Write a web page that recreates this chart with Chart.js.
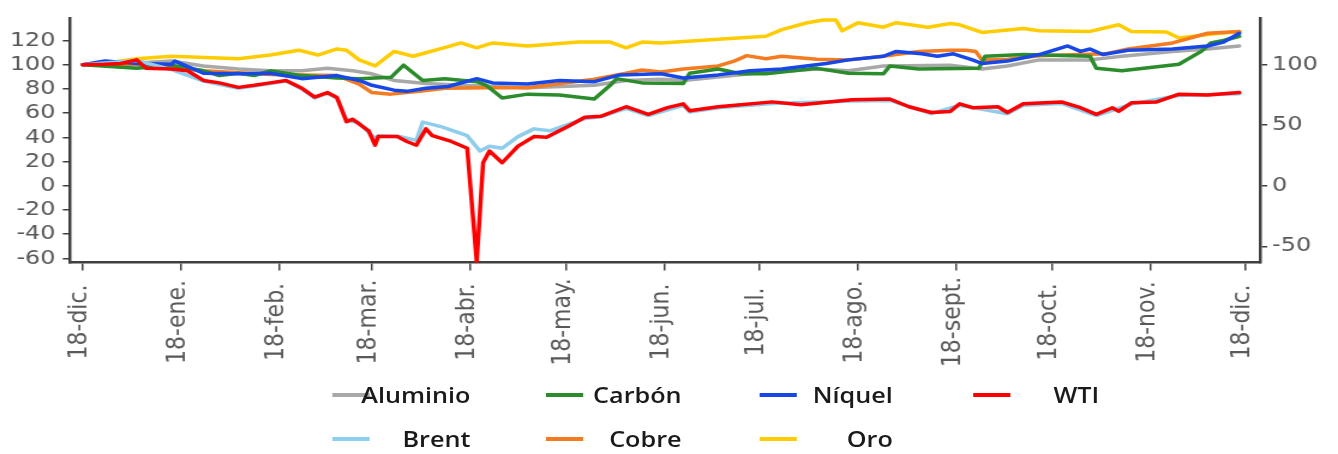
<!DOCTYPE html>
<html lang="es">
<head>
<meta charset="utf-8">
<title>Materias primas</title>
<script src="https://cdn.jsdelivr.net/npm/chart.js@4.4.1/dist/chart.umd.min.js"></script>
<style>
  html, body { margin: 0; padding: 0; background: #fff; overflow: hidden; }
  /* the reference is stretched sideways, so the whole chart is drawn narrower and scaled */
  #wrap { position: relative; width: 1115px; height: 454px; transform: scaleX(1.2); transform-origin: 0 0; }
  #chart { position: absolute; left: 0; top: 0; }
  #legend { position: absolute; left: 0; top: 0; width: 100%; height: 100%; font-family: 'Open Sans', sans-serif; font-size: 21px; font-weight: 600; color: #1a1a1a; }
  .item { position: absolute; height: 30px; }
  .item .line { position: absolute; left: 0; top: 13px; width: 31px; height: 4px; }
  .item .txt { position: absolute; right: 0; top: 0; line-height: 30px; white-space: nowrap; }
</style>
</head>
<body>
<div id="wrap">
  <canvas id="chart" width="1115" height="454"></canvas>
  <div id="legend"></div>
</div>
<script>
// Eje X: días desde el 18-dic-2019
const tickDays = [0, 31, 62, 91, 122, 152, 183, 213, 244, 275, 305, 336, 366];
const tickLabels = ['18-dic.', '18-ene.', '18-feb.', '18-mar.', '18-abr.', '18-may.', '18-jun.',
                    '18-jul.', '18-ago.', '18-sept.', '18-oct.', '18-nov.', '18-dic.'];
const leftTicks = [-60, -40, -20, 0, 20, 40, 60, 80, 100, 120];
const rightTicks = [-50, 0, 50, 100];

// Series (índice 18-dic = 100)
const aluminioDias = [0, 7, 17, 28, 38, 49, 59, 69, 77, 85, 91, 98, 108, 119, 140, 161, 171, 182, 189, 210,
  231, 241, 252, 273, 283, 291, 301, 317, 327, 343, 354, 364];
const aluminioValores = [100, 101, 101.5, 103, 99, 96.5, 95, 95, 97, 95, 92.5, 87, 84.5, 83, 81, 83, 87, 88, 87, 92.5,
  96.5, 95, 99, 99.6, 96.5, 99, 104, 104, 107, 111, 113, 115.5];

const carbonDias = [0, 17, 28, 38, 43, 49, 54, 59, 69, 80, 87, 97, 101, 107, 114, 124, 127, 132, 140, 150,
  161, 166, 168, 176, 189, 191, 200, 207, 215, 231, 241, 252, 254, 263, 282, 284, 296, 317, 319, 327,
  345, 352, 355, 359, 364];
const carbonValores = [100, 97, 99.6, 95, 91, 93, 91, 95, 91, 89, 88.5, 89.6, 99.6, 87, 88.5, 86, 83, 72.5, 75.7, 75,
  71.7, 83, 88.5, 85, 84.5, 93, 96.5, 92.5, 92.5, 97, 93, 92.5, 99, 96.5, 97, 107, 108.4, 107, 97, 95,
  100.4, 111, 118, 120, 123.5];

const niquelDias = [0, 7, 17, 28, 29, 38, 49, 59, 69, 80, 87, 91, 98, 102, 108, 115, 124, 129, 140, 150,
  161, 169, 182, 189, 200, 210, 220, 234, 241, 252, 256, 264, 269, 274, 280, 283, 291, 301, 310, 314,
  317, 321, 329, 343, 354, 359, 364];
const niquelValores = [100, 103, 101, 100.4, 103, 93, 92.5, 93, 88.5, 91, 87, 83, 79, 78, 80.5, 82, 88.5, 85, 84, 87,
  86, 91.6, 92.5, 89, 91.6, 95, 96.5, 101, 104, 107, 111, 109, 107, 109, 104, 101, 103, 108.4, 115.5, 111,
  113, 108.4, 112, 113, 115.5, 118.7, 126];

const wtiDias = [0, 7, 12, 17, 20, 28, 33, 38, 43, 49, 54, 59, 64, 69, 73, 77, 80, 83, 85, 87,
  90, 92, 93, 99, 102, 105, 108, 110, 116, 121, 124, 126, 128, 132, 137, 142, 146, 153, 158, 163,
  171, 178, 184, 189, 191, 200, 217, 226, 242, 254, 260, 267, 273, 276, 280, 288, 291, 296, 308, 314,
  319, 324, 326, 330, 338, 345, 354, 364];
const wtiValores = [100, 100.4, 101, 104, 97, 96.5, 95, 87, 85, 81.3, 83, 85, 87, 80.5, 73.3, 77, 73, 53, 55, 51,
  45.4, 33.5, 40.6, 40.6, 36.6, 33.5, 47, 41.4, 36.6, 31, -63, 19, 28.7, 19, 32.7, 40.6, 40, 49.4, 56.6, 57.4,
  65.3, 59, 64.5, 67.7, 62, 65.3, 69.3, 67, 71, 71.7, 65.3, 60.5, 61.4, 67.7, 64.5, 65.3, 60.5, 67.7, 69.3, 64.5,
  59, 64.5, 61.4, 68.5, 69.3, 75.7, 75, 77];

const brentDias = [0, 17, 28, 38, 49, 59, 64, 69, 73, 77, 80, 83, 87, 92, 93, 100, 105, 107, 113, 121,
  125, 128, 132, 137, 142, 147, 153, 158, 163, 171, 178, 189, 191, 200, 217, 242, 254, 267, 276, 291,
  296, 308, 319, 330, 345, 364];
const brentValores = [100, 103.5, 96, 86.5, 80.5, 84.5, 86.5, 80, 72.5, 76.5, 72.5, 54, 52, 39, 41.4, 40.6, 37.5, 52.6, 48.6, 41.4,
  28.7, 32.7, 31, 40.6, 47, 45.4, 51, 55.5, 57, 64, 58, 66.5, 61, 64.5, 68, 70, 70.5, 59.5, 66.5, 59.5,
  66.5, 68, 58, 67.5, 74.5, 76];

const cobreDias = [0, 17, 38, 59, 80, 87, 91, 97, 106, 114, 127, 140, 161, 171, 176, 182, 189, 200, 205, 209,
  215, 220, 231, 241, 252, 263, 273, 278, 281, 283, 291, 301, 322, 329, 343, 354, 364];
const cobreValores = [100, 100, 95, 92, 91, 84, 77, 75.7, 78, 80.5, 81, 81, 88, 93, 95.6, 94, 96.5, 99, 103, 107.5,
  105, 107, 104.5, 104, 107, 111, 112, 112, 111, 104, 104.5, 107.5, 109, 113, 118, 126, 127.5];

const oroDias = [0, 7, 12, 17, 28, 49, 59, 68, 74, 80, 83, 87, 92, 98, 104, 115, 119, 124, 129, 140,
  156, 166, 171, 176, 182, 200, 215, 220, 228, 233, 237, 239, 244, 252, 256, 266, 273, 276, 283, 296,
  301, 317, 326, 330, 341, 345, 354, 364];
const oroValores = [100, 101, 103, 105, 107, 105, 108, 112, 108, 113, 112, 104, 99, 111, 107, 115, 118, 114, 118, 115.5,
  118.7, 118.7, 114, 118.7, 118, 121, 123.5, 129, 134.7, 137, 137, 128, 134.7, 131, 134.7, 131, 134, 133, 126.7, 130,
  128, 127.5, 133, 127.5, 127, 122, 125, 127.5];

const toPoints = (dias, valores) => dias.map((d, i) => ({ x: d, y: valores[i] }));

const tickFont = { family: "'DejaVu Sans', sans-serif", size: 20 };
const axisColor = '#404040';
const labelColor = '#595959';

function makeDataset(label, dias, valores, color, axis, order) {
    return {
        label: label,
        data: toPoints(dias, valores),
        borderColor: color,
        backgroundColor: color,
        borderWidth: 3.5,
        pointRadius: 0,
        tension: 0,
        borderJoinStyle: 'round',
        borderCapStyle: 'round',
        yAxisID: axis,
        order: order
    };
}

// orden de la leyenda; "order" decide qué línea queda encima
const datasets = [
    makeDataset('Aluminio', aluminioDias, aluminioValores, '#A8A8A8', 'y', 5),
    makeDataset('Carbón', carbonDias, carbonValores, '#2B8C2B', 'y', 3),
    makeDataset('Níquel', niquelDias, niquelValores, '#1747E6', 'y', 2),
    makeDataset('WTI', wtiDias, wtiValores, '#FF0000', 'y1', 0),
    makeDataset('Brent', brentDias, brentValores, '#8ECDEB', 'y1', 1),
    makeDataset('Cobre', cobreDias, cobreValores, '#F47B20', 'y', 4),
    makeDataset('Oro', oroDias, oroValores, '#FFCC00', 'y', 6)
];

// etiquetas de meses giradas y centradas, como en el original
const monthLabels = {
    id: 'monthLabels',
    afterDraw(chart) {
        const ctx = chart.ctx;
        const x = chart.scales.x;
        const cy = x.top + 59.5;
        ctx.save();
        ctx.font = "22px 'DejaVu Sans', sans-serif";
        ctx.fillStyle = labelColor;
        ctx.textAlign = 'center';
        ctx.textBaseline = 'middle';
        tickDays.forEach((d, i) => {
            ctx.save();
            ctx.translate(x.getPixelForValue(d) - 2.5, cy);
            ctx.rotate(-Math.PI / 2);
            ctx.fillText(tickLabels[i], 0, 0);
            ctx.restore();
        });
        ctx.restore();
    }
};

const yLimits = { min: -63.4, max: 138.6 };

const chart = new Chart(document.getElementById('chart').getContext('2d'), {
    type: 'line',
    data: { datasets: datasets },
    options: {
        responsive: false,
        animation: false,
        layout: { padding: { top: 10, left: 0, right: 0, bottom: 0 } },
        plugins: { legend: { display: false }, tooltip: { enabled: false } },
        scales: {
            x: {
                type: 'linear',
                min: -4,
                max: 370.5,
                afterBuildTicks: (s) => { s.ticks = tickDays.map(v => ({ value: v })); },
                afterFit: (s) => { s.height = 191.5; },
                ticks: { display: false },
                grid: { drawOnChartArea: false, drawTicks: true, tickLength: 8, color: axisColor, lineWidth: 1.5 },
                border: { display: true, color: axisColor, width: 2.5 }
            },
            y: {
                position: 'left',
                min: yLimits.min,
                max: yLimits.max,
                afterBuildTicks: (s) => { s.ticks = leftTicks.map(v => ({ value: v })); },
                afterFit: (s) => { s.width = 58.3; },
                ticks: { font: tickFont, color: labelColor, padding: 6, callback: (v) => String(v) },
                grid: { drawOnChartArea: false, drawTicks: true, tickLength: 6, color: axisColor, lineWidth: 1.5 },
                border: { display: true, color: axisColor, width: 2.5 }
            },
            y1: {
                position: 'right',
                min: yLimits.min,
                max: yLimits.max,
                afterBuildTicks: (s) => { s.ticks = rightTicks.map(v => ({ value: v })); },
                afterFit: (s) => { s.width = 65; },
                ticks: { font: tickFont, color: labelColor, padding: 4, callback: (v) => String(v) },
                grid: { drawOnChartArea: false, drawTicks: true, tickLength: 6, color: axisColor, lineWidth: 1.5 },
                border: { display: true, color: axisColor, width: 2.5 }
            }
        }
    },
    plugins: [monthLabels]
});

// leyenda en HTML: 4 columnas, 2 filas
const colWidths = [115, 113, 111, 105];
const legendEl = document.getElementById('legend');
chart.data.datasets.forEach((ds, i) => {
    const row = Math.floor(i / 4);
    const col = i % 4;
    const item = document.createElement('div');
    item.className = 'item';
    item.style.left = (277 + col * 178) + 'px';
    item.style.top = (row === 0 ? 380 : 424) + 'px';
    item.style.width = colWidths[col] + 'px';
    const line = document.createElement('span');
    line.className = 'line';
    line.style.background = ds.borderColor;
    const txt = document.createElement('span');
    txt.className = 'txt';
    txt.textContent = ds.label;
    item.appendChild(line);
    item.appendChild(txt);
    legendEl.appendChild(item);
});
</script>
</body>
</html>
